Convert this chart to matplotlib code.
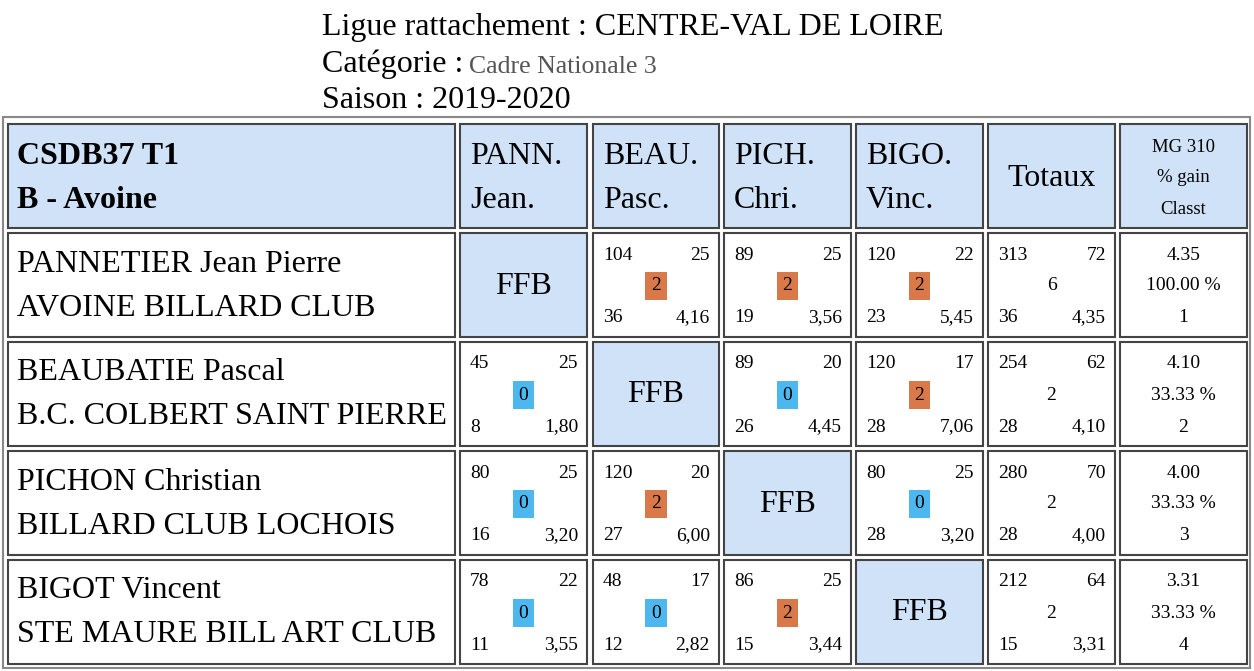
import matplotlib.pyplot as plt
from matplotlib.patches import Rectangle

plt.rcParams["font.family"] = "Liberation Serif"

# --- DATA ---
players = ["PANNETIER Jean Pierre", "BEAUBATIE Pascal", "PICHON Christian", "BIGOT Vincent"]
clubs = ["AVOINE BILLARD CLUB", "B.C. COLBERT SAINT PIERRE", "BILLARD CLUB LOCHOIS", "STE MAURE BILL ART CLUB"]
short_names = [("PANN.", "Jean."), ("BEAU.", "Pasc."), ("PICH.", "Chri."), ("BIGO.", "Vinc.")]
# per match: (points, reprises, match points, best series, average)
matches = [
    [None, (104, 25, 2, 36, "4,16"), (89, 25, 2, 19, "3,56"), (120, 22, 2, 23, "5,45")],
    [(45, 25, 0, 8, "1,80"), None, (89, 20, 0, 26, "4,45"), (120, 17, 2, 28, "7,06")],
    [(80, 25, 0, 16, "3,20"), (120, 20, 2, 27, "6,00"), None, (80, 25, 0, 28, "3,20")],
    [(78, 22, 0, 11, "3,55"), (48, 17, 0, 12, "2,82"), (86, 25, 2, 15, "3,44"), None],
]
totals = [(313, 72, 6, 36, "4,35"), (254, 62, 2, 28, "4,10"), (280, 70, 2, 28, "4,00"), (212, 64, 2, 15, "3,31")]
mg = ["4.35", "4.10", "4.00", "3.31"]
gain = ["100.00 %", "33.33 %", "33.33 %", "33.33 %"]
rank = ["1", "2", "3", "4"]

BLUE = "#cfe2f8"
ORANGE = "#d9794a"
BADGE_BLUE = "#4db8f0"
BIG = 23
SMALL = 14

fig = plt.figure(figsize=(12.54, 6.71), dpi=100)
ax = fig.add_axes([0, 0, 1, 1])
ax.set_xlim(0, 1254)
ax.set_ylim(671, 0)
ax.axis("off")

# title block
ax.text(322, 27, "Ligue rattachement : CENTRE-VAL DE LOIRE", fontsize=BIG, va="center")
ax.text(322, 64, "Catégorie : ", fontsize=BIG, va="center")
ax.text(469, 67, "Cadre Nationale 3", fontsize=18.5, va="center", color="#555555")
ax.text(322, 100, "Saison : 2019-2020", fontsize=BIG, va="center")

ax.add_patch(Rectangle((3, 117), 1247, 551, fill=False, ec="#888888", lw=1.5))

col_x = [8, 460, 593, 724, 856, 988, 1120]
col_w = [447, 127, 126, 127, 127, 127, 127]
row_y = [124, 233, 342, 451, 560]
row_h = 104


def cell(c, r, fill="white"):
    ax.add_patch(Rectangle((col_x[c], row_y[r]), col_w[c], row_h, fc=fill, ec="#444444", lw=1.5))


def badge(x, y, v):
    ax.text(x, y, str(v), fontsize=SMALL, ha="center", va="center",
            bbox=dict(boxstyle="square,pad=0.3", fc=ORANGE if v == 2 else BADGE_BLUE, ec="none"))


def corner_cell(c, r, vals, center_badge=True):
    x0, y0 = col_x[c], row_y[r]
    w = col_w[c]
    tl, tr, mid, bl, br = vals
    ax.text(x0 + 10, y0 + 22, str(tl), fontsize=SMALL, va="center")
    ax.text(x0 + w - 9, y0 + 22, str(tr), fontsize=SMALL, va="center", ha="right")
    if center_badge:
        badge(x0 + w / 2, y0 + row_h / 2 + 1, mid)
    else:
        ax.text(x0 + w / 2, y0 + row_h / 2 + 1, str(mid), fontsize=SMALL, ha="center", va="center")
    ax.text(x0 + 10, y0 + row_h - 19, str(bl), fontsize=SMALL, va="center")
    ax.text(x0 + w - 9, y0 + row_h - 19, str(br), fontsize=SMALL, va="center", ha="right")


# header row
for c in range(7):
    cell(c, 0, BLUE)
ax.text(17, 156, "CSDB37 T1", fontsize=BIG, fontweight="bold", va="center")
ax.text(17, 200, "B - Avoine", fontsize=BIG, fontweight="bold", va="center")
for i, (a, b) in enumerate(short_names):
    ax.text(col_x[i + 1] + 10, 156, a, fontsize=BIG, va="center")
    ax.text(col_x[i + 1] + 10, 200, b, fontsize=BIG, va="center")
ax.text(col_x[5] + col_w[5] / 2, 178, "Totaux", fontsize=BIG, ha="center", va="center")
for k, t in enumerate(["MG 310", "% gain", "Classt"]):
    ax.text(col_x[6] + col_w[6] / 2, 147 + 31 * k, t, fontsize=13.5, ha="center", va="center")

# body rows
for r in range(4):
    y0 = row_y[r + 1]
    cell(0, r + 1)
    ax.text(17, y0 + 31, players[r], fontsize=BIG, va="center")
    ax.text(17, y0 + 75, clubs[r], fontsize=BIG, va="center")
    for c in range(4):
        if matches[r][c] is None:
            cell(c + 1, r + 1, BLUE)
            ax.text(col_x[c + 1] + col_w[c + 1] / 2, y0 + row_h / 2 + 1, "FFB", fontsize=BIG, ha="center", va="center")
        else:
            cell(c + 1, r + 1)
            corner_cell(c + 1, r + 1, matches[r][c])
    cell(5, r + 1)
    corner_cell(5, r + 1, totals[r], center_badge=False)
    cell(6, r + 1)
    cx = col_x[6] + col_w[6] / 2
    ax.text(cx, y0 + 22, mg[r], fontsize=SMALL, ha="center", va="center")
    ax.text(cx, y0 + 53, gain[r], fontsize=SMALL, ha="center", va="center")
    ax.text(cx, y0 + 85, rank[r], fontsize=SMALL, ha="center", va="center")

fig.savefig("out.png", dpi=100)
